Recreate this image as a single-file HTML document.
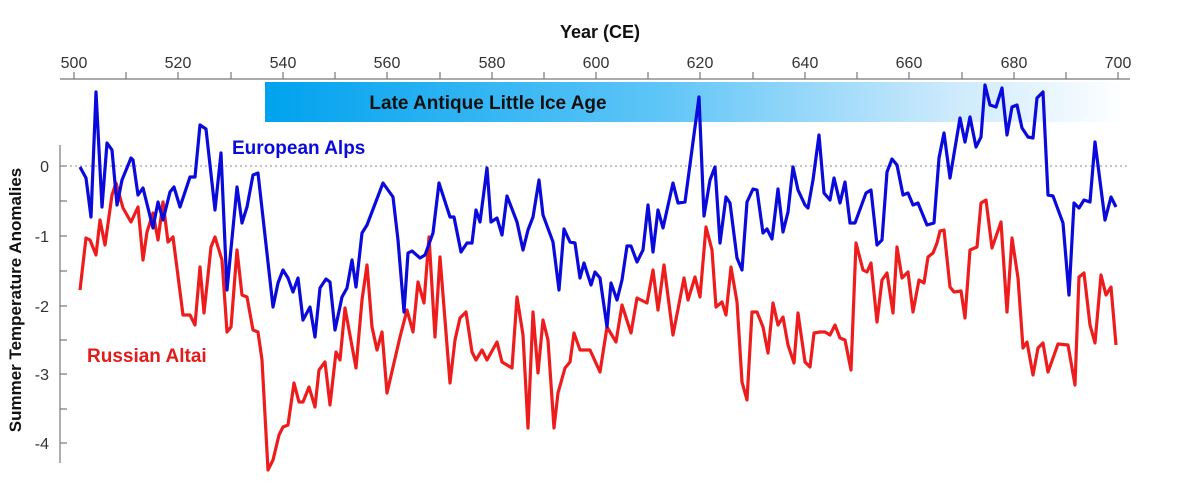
<!DOCTYPE html>
<html><head><meta charset="utf-8"><style>
html,body{margin:0;padding:0;background:#fff;}
svg{display:block;font-family:"Liberation Sans",Arial,sans-serif;}
</style></head><body>
<svg width="1200" height="500" viewBox="0 0 1200 500" xmlns="http://www.w3.org/2000/svg">
<defs>
<linearGradient id="g" x1="0" x2="1" y1="0" y2="0">
<stop offset="0" stop-color="#00a2ee"/>
<stop offset="0.45" stop-color="#5cc4f7"/>
<stop offset="0.8" stop-color="#cdeafc"/>
<stop offset="1" stop-color="#ffffff"/>
</linearGradient>
</defs>
<rect x="265" y="82" width="860" height="40" fill="url(#g)"/>
<text x="488" y="109" font-size="19" font-weight="bold" text-anchor="middle" fill="#111">Late Antique Little Ice Age</text>
<text x="600" y="38" font-size="18" font-weight="bold" text-anchor="middle" fill="#111">Year (CE)</text>
<g font-size="16" fill="#333" text-anchor="middle">
<text x="74" y="68">500</text><text x="178" y="68">520</text><text x="283" y="68">540</text><text x="387" y="68">560</text><text x="492" y="68">580</text><text x="596" y="68">600</text><text x="700" y="68">620</text><text x="805" y="68">640</text><text x="909" y="68">660</text><text x="1014" y="68">680</text><text x="1118" y="68">700</text>
</g>
<line x1="60" y1="79" x2="1130" y2="79" stroke="#777" stroke-width="1.2"/>
<g stroke="#777" stroke-width="1.2">
<line x1="74" y1="72" x2="74" y2="79"/><line x1="126" y1="72" x2="126" y2="79"/><line x1="178" y1="72" x2="178" y2="79"/><line x1="231" y1="72" x2="231" y2="79"/><line x1="283" y1="72" x2="283" y2="79"/><line x1="335" y1="72" x2="335" y2="79"/><line x1="387" y1="72" x2="387" y2="79"/><line x1="440" y1="72" x2="440" y2="79"/><line x1="492" y1="72" x2="492" y2="79"/><line x1="544" y1="72" x2="544" y2="79"/><line x1="596" y1="72" x2="596" y2="79"/><line x1="648" y1="72" x2="648" y2="79"/><line x1="700" y1="72" x2="700" y2="79"/><line x1="753" y1="72" x2="753" y2="79"/><line x1="805" y1="72" x2="805" y2="79"/><line x1="857" y1="72" x2="857" y2="79"/><line x1="909" y1="72" x2="909" y2="79"/><line x1="962" y1="72" x2="962" y2="79"/><line x1="1014" y1="72" x2="1014" y2="79"/><line x1="1066" y1="72" x2="1066" y2="79"/><line x1="1118" y1="72" x2="1118" y2="79"/>
</g>
<line x1="60" y1="145" x2="60" y2="463" stroke="#777" stroke-width="1.2"/>
<g stroke="#777" stroke-width="1.2">
<line x1="60" y1="166" x2="67" y2="166"/><line x1="60" y1="201" x2="67" y2="201"/><line x1="60" y1="236" x2="67" y2="236"/><line x1="60" y1="271" x2="67" y2="271"/><line x1="60" y1="306" x2="67" y2="306"/><line x1="60" y1="340" x2="67" y2="340"/><line x1="60" y1="374" x2="67" y2="374"/><line x1="60" y1="409" x2="67" y2="409"/><line x1="60" y1="443" x2="67" y2="443"/>
</g>
<g font-size="16" fill="#333" text-anchor="end">
<text x="49" y="172">0</text><text x="49" y="242">-1</text><text x="49" y="312">-2</text><text x="49" y="380">-3</text><text x="49" y="449">-4</text>
</g>
<text transform="translate(21,300) rotate(-90)" font-size="17" font-weight="bold" text-anchor="middle" fill="#111">Summer Temperature Anomalies</text>
<line x1="60" y1="166" x2="1130" y2="166" stroke="#888" stroke-width="1" stroke-dasharray="2,3"/>
<text x="232" y="154" font-size="19" font-weight="bold" fill="#0a0adc">European Alps</text>
<text x="87" y="362" font-size="19" font-weight="bold" fill="#e31b1b">Russian Altai</text>
<polyline fill="none" stroke="#ee1c1c" stroke-width="3.2" stroke-linejoin="round" points="80,290 86,238 90,240 96,255 100,220 105,245 112,195 116,183 123,208 131,222 138,207 143,260 147,232 153,213 158,240 163,202 168,242 173,237 183,315 190,315 195,325 200,267 204,313 211,247 215,237 222,260 227,332 231,327 237,250 242,295 247,297 253,330 258,332 262,360 268,470 273,460 279,435 283,427 288,425 294,383 299,402 303,402 309,387 315,407 319,370 325,362 330,405 336,352 340,360 345,308 356,368 362,300 367,265 372,327 377,350 382,332 387,393 400,337 407,310 413,332 418,282 424,303 429,237 435,337 440,257 450,383 455,340 460,318 466,312 472,352 476,360 482,350 487,360 497,342 502,362 512,368 517,297 523,335 528,428 533,312 538,373 543,320 548,340 554,428 558,393 565,368 570,362 574,333 580,350 590,350 600,372 607,327 616,342 622,305 631,333 637,298 647,303 653,270 658,310 664,265 673,335 684,278 688,300 695,277 700,297 706,227 712,250 716,307 722,302 726,315 731,267 737,302 742,382 747,400 752,312 757,312 763,327 768,353 773,303 778,325 783,317 788,345 794,363 798,313 805,362 810,367 814,333 820,332 825,332 830,335 835,325 840,338 845,340 851,370 856,243 863,270 867,272 871,263 877,322 882,280 887,273 893,313 897,247 902,278 908,272 913,312 919,280 924,283 928,257 933,253 937,243 940,231 944,230 950,287 954,292 961,291 965,318 970,250 977,247 981,203 986,200 992,248 1001,222 1007,312 1012,238 1018,278 1023,348 1027,342 1033,375 1038,348 1043,343 1048,372 1058,344 1068,345 1075,385 1079,277 1084,273 1090,325 1095,343 1101,275 1106,295 1111,287 1116,345"/>
<polyline fill="none" stroke="#0a0adc" stroke-width="3.2" stroke-linejoin="round" points="80,167 86,178 91,217 96,92 102,207 107,143 112,150 117,205 122,180 131,158 133,160 138,195 143,188 153,228 158,202 163,220 170,192 174,187 180,207 190,177 195,177 200,125 206,129 215,210 221,153 227,290 237,187 242,223 247,207 253,175 258,173 273,307 278,283 283,270 288,278 293,292 298,278 303,320 310,307 315,337 320,288 326,279 330,282 335,330 342,297 347,288 352,260 356,287 362,233 367,225 383,183 393,197 398,240 404,312 408,253 412,251 420,258 425,255 433,233 439,183 450,217 454,217 461,252 467,243 472,243 476,210 480,222 487,168 491,222 497,218 502,235 507,196 517,222 523,250 528,230 533,217 539,180 543,215 553,242 559,290 564,229 570,242 575,243 580,278 584,263 591,285 595,272 600,278 607,327 611,283 617,300 622,280 627,246 631,246 637,262 643,250 648,205 653,252 658,210 663,228 673,183 678,203 685,202 699,97 704,216 710,180 715,167 720,243 726,197 730,203 737,258 742,270 747,202 753,189 757,190 763,233 767,229 772,239 778,189 783,232 788,212 793,167 798,190 805,205 808,208 813,180 819,135 824,193 830,200 834,178 840,203 845,182 850,223 855,223 866,193 871,190 877,245 882,240 887,172 892,159 897,165 903,195 908,193 913,205 918,203 927,225 934,223 939,158 944,133 950,178 960,118 965,142 970,117 976,147 981,137 985,85 990,105 996,107 1002,88 1007,135 1012,107 1017,105 1022,128 1028,137 1033,138 1037,98 1043,92 1048,195 1053,196 1063,223 1069,295 1074,203 1079,208 1084,200 1090,202 1095,142 1105,220 1111,197 1116,207"/>
</svg>
</body></html>
